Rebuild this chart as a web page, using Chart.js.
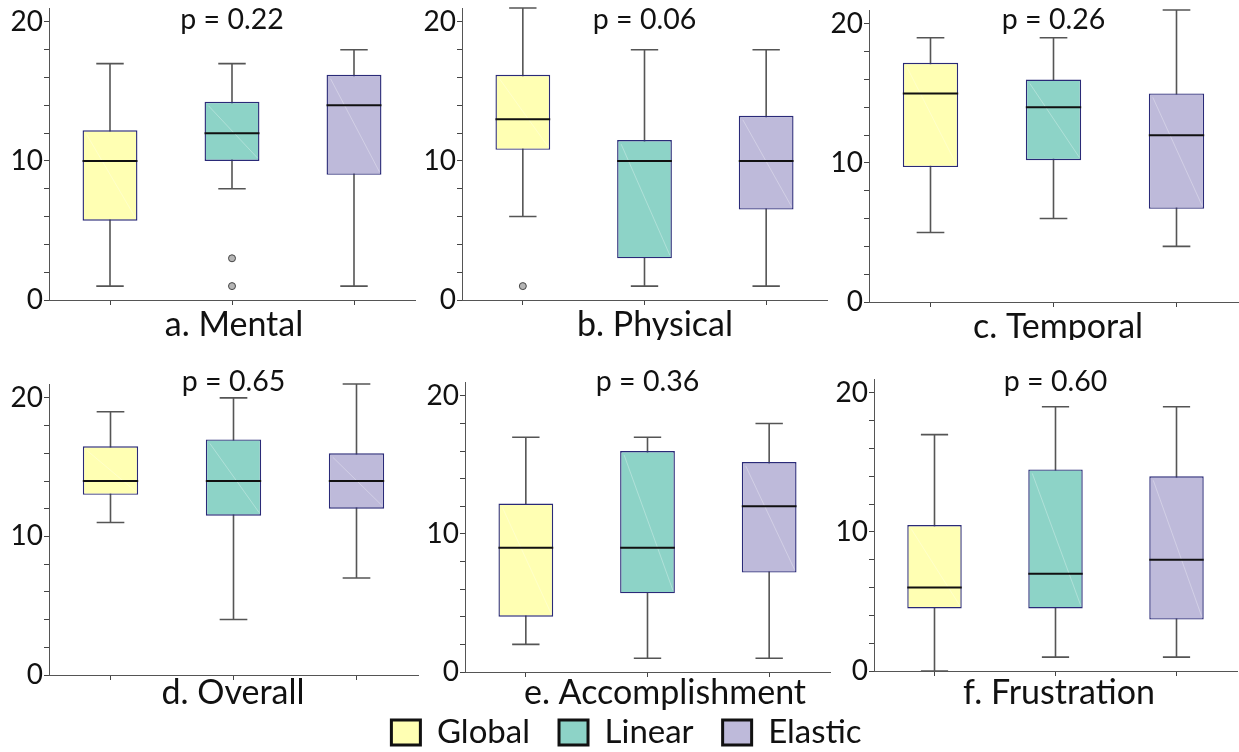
<!DOCTYPE html>
<html>
<head>
<meta charset="utf-8">
<title>NASA-TLX box plots</title>
<script src="https://cdn.jsdelivr.net/npm/chart.js@4.4.1/dist/chart.umd.min.js"></script>
<style>
  body { margin: 0; background: #fff; }
  #page { position: relative; width: 1239px; height: 752px; overflow: hidden; }
  #page canvas { position: absolute; }
</style>
</head>
<body>
<div id="page"></div>
<script>
// categories and per-panel values
const groups = ['Global', 'Linear', 'Elastic'];
const groupColors = ['#FFFFB3', '#8DD3C7', '#BEBADA'];
const panelTitles = ['a. Mental', 'b. Physical', 'c. Temporal', 'd. Overall', 'e. Accomplishment', 'f. Frustration'];
const pLabels = ['p = 0.22', 'p = 0.06', 'p = 0.26', 'p = 0.65', 'p = 0.36', 'p = 0.60'];

const whiskerLow  = [[1, 8, 1], [6, 1, 1], [5, 6, 4], [11, 4, 7], [2, 1, 1], [0, 1, 1]];
const q1          = [[5.7, 10, 9], [10.8, 3, 6.5], [9.7, 10.2, 6.7], [13, 11.5, 12], [4, 5.7, 7.2], [4.5, 4.5, 3.7]];
const medians     = [[10, 12, 14], [13, 10, 10], [15, 14, 12], [14, 14, 14], [9, 9, 12], [6, 7, 8]];
const q3          = [[12.2, 14.25, 16.2], [16.2, 11.5, 13.25], [17.2, 16, 15], [16.5, 17, 16], [12.2, 16, 15.2], [10.5, 14.5, 14]];
const whiskerHigh = [[17, 17, 18], [21, 18, 18], [19, 19, 21], [19, 20, 21], [17, 17, 18], [17, 19, 19]];
const outliers    = [[[], [3, 1], []], [[1], [], []], [[], [], []], [[], [], []], [[], [], []], [[], [], []]];

const yTicksMax = 21;

// where each panel sits on the page (labelX/labelY are page coords of the panel caption)
const panels = [
  { left: 0,   top: 0,   w: 420, h: 340, yW: 49, padTop: 8,  padRight: 2, xH: 40, pY: 20, labelX: 234,  labelY: 325 },
  { left: 412, top: 0,   w: 420, h: 340, yW: 50, padTop: 8,  padRight: 2, xH: 40, pY: 20, labelX: 655,  labelY: 325 },
  { left: 820, top: 0,   w: 419, h: 340, yW: 49, padTop: 10, padRight: 1, xH: 38, pY: 20, labelX: 1058, labelY: 327 },
  { left: 0,   top: 340, w: 420, h: 375, yW: 49, padTop: 44, padRight: 2, xH: 40, pY: 42, labelX: 233,  labelY: 693 },
  { left: 415, top: 340, w: 420, h: 375, yW: 50, padTop: 42, padRight: 5, xH: 43, pY: 42, labelX: 665,  labelY: 693 },
  { left: 820, top: 340, w: 419, h: 375, yW: 54, padTop: 39, padRight: 2, xH: 44, pY: 42, labelX: 1059, labelY: 693 }
];

const FONT = 'Lato';
const page = document.getElementById('page');

function addCanvas(left, top, w, h) {
  const c = document.createElement('canvas');
  c.width = w; c.height = h;
  c.style.left = left + 'px';
  c.style.top = top + 'px';
  c.style.width = w + 'px';
  c.style.height = h + 'px';
  page.appendChild(c);
  return c;
}

// whiskers, caps, medians, p-value text and caption
function boxPlugin(k) {
  const P = panels[k];
  return {
    id: 'boxExtras' + k,
    beforeDatasetsDraw(chart) {
      const ctx = chart.ctx;
      const y = chart.scales.y;
      const bars = chart.getDatasetMeta(0).data;
      ctx.save();
      ctx.strokeStyle = '#555';
      ctx.lineWidth = 1.6;
      bars.forEach((bar, i) => {
        const lo = y.getPixelForValue(whiskerLow[k][i]);
        const hi = y.getPixelForValue(whiskerHigh[k][i]);
        const cap = bar.width / 4;
        ctx.beginPath();
        ctx.moveTo(bar.x, lo); ctx.lineTo(bar.x, hi);
        ctx.moveTo(bar.x - cap, lo); ctx.lineTo(bar.x + cap, lo);
        ctx.moveTo(bar.x - cap, hi); ctx.lineTo(bar.x + cap, hi);
        ctx.stroke();
      });
      ctx.restore();
    },
    afterDatasetsDraw(chart) {
      const ctx = chart.ctx;
      const y = chart.scales.y;
      const bars = chart.getDatasetMeta(0).data;
      ctx.save();
      bars.forEach((bar, i) => {
        const half = bar.width / 2;
        const top = y.getPixelForValue(q3[k][i]);
        const bottom = y.getPixelForValue(q1[k][i]);
        // faint sheen line across the box
        ctx.strokeStyle = 'rgba(255,255,255,0.3)';
        ctx.lineWidth = 1;
        ctx.beginPath();
        ctx.moveTo(bar.x - half + 4, top + 4);
        ctx.lineTo(bar.x + half - 2, bottom - 3);
        ctx.stroke();
        // median
        const m = y.getPixelForValue(medians[k][i]);
        ctx.strokeStyle = '#111';
        ctx.lineWidth = 2;
        ctx.beginPath();
        ctx.moveTo(bar.x - half, m);
        ctx.lineTo(bar.x + half, m);
        ctx.stroke();
      });
      ctx.restore();
    },
    afterDraw(chart) {
      const ctx = chart.ctx;
      const area = chart.chartArea;
      ctx.save();
      ctx.fillStyle = '#111';
      ctx.textAlign = 'center';
      ctx.textBaseline = 'middle';
      ctx.font = '28.5px ' + FONT;
      ctx.fillText(pLabels[k], (area.left + area.right) / 2, P.pY);
      ctx.font = '34px ' + FONT;
      ctx.fillText(panelTitles[k], P.labelX - P.left, P.labelY - P.top);
      ctx.restore();
    }
  };
}

function buildPanel(k) {
  const P = panels[k];
  const canvas = addCanvas(P.left, P.top, P.w, P.h);

  const outlierPoints = [];
  outliers[k].forEach((list, i) => list.forEach(v => outlierPoints.push({ x: groups[i], y: v })));

  new Chart(canvas.getContext('2d'), {
    type: 'bar',
    data: {
      labels: groups,
      datasets: [
        {
          label: 'IQR',
          data: q1[k].map((v, i) => [v, q3[k][i]]),
          backgroundColor: groupColors,
          borderColor: '#2a2a78',
          borderWidth: 1.4,
          borderSkipped: false,
          barPercentage: 0.45,
          categoryPercentage: 1,
          order: 2
        },
        {
          type: 'line',
          label: 'outliers',
          data: outlierPoints,
          showLine: false,
          pointRadius: 3.5,
          pointBackgroundColor: '#b5b5b5',
          pointBorderColor: '#444',
          pointBorderWidth: 1,
          order: 1
        }
      ]
    },
    options: {
      responsive: false,
      animation: false,
      events: [],
      layout: { padding: { top: P.padTop, right: P.padRight, left: 0, bottom: 0 } },
      plugins: {
        legend: { display: false },
        tooltip: { enabled: false }
      },
      scales: {
        x: {
          offset: true,
          border: { color: '#555', width: 1 },
          grid: { offset: false, drawOnChartArea: false, tickLength: 5, color: '#444' },
          ticks: { display: false },
          afterFit: s => { s.height = P.xH; s.paddingLeft = 0; s.paddingRight = 0; }
        },
        y: {
          min: 0,
          max: yTicksMax,
          border: { color: '#555', width: 1 },
          grid: { drawOnChartArea: false, tickLength: 5, color: '#444' },
          ticks: {
            stepSize: 2,
            includeBounds: false,
            autoSkip: false,
            padding: 1,
            color: '#111',
            font: { family: FONT, size: 28, lineHeight: 1 },
            callback: v => (v % 10 === 0 ? v : '')
          },
          afterFit: s => { s.width = P.yW; s.paddingTop = 0; s.paddingBottom = 0; }
        }
      }
    },
    plugins: [boxPlugin(k)]
  });
}

function buildLegend() {
  const canvas = addCanvas(0, 687, 1239, 170);
  new Chart(canvas.getContext('2d'), {
    type: 'bar',
    data: {
      labels: [''],
      datasets: groups.map((g, i) => ({
        label: g,
        data: [],
        backgroundColor: groupColors[i],
        borderColor: '#111',
        borderWidth: 3
      }))
    },
    options: {
      responsive: false,
      animation: false,
      events: [],
      layout: { padding: { left: 14 } },
      scales: { x: { display: false }, y: { display: false } },
      plugins: {
        tooltip: { enabled: false },
        legend: {
          display: true,
          position: 'top',
          labels: {
            boxWidth: 29,
            boxHeight: 25,
            padding: 29,
            color: '#111',
            font: { family: FONT, size: 33 }
          }
        }
      }
    }
  });
}

document.fonts.load('28px ' + FONT).then(() => {
  panels.forEach((p, k) => buildPanel(k));
  buildLegend();
});
</script>
</body>
</html>
